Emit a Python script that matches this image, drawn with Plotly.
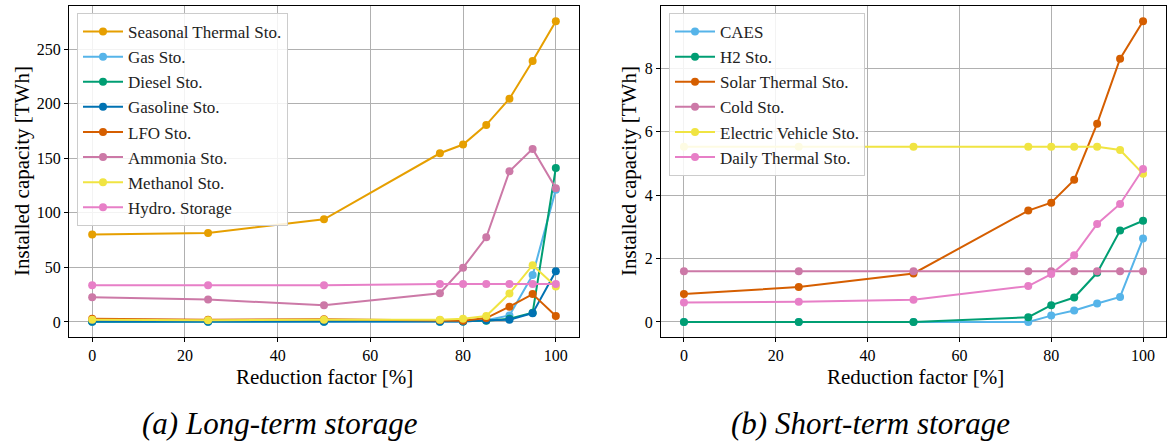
import plotly.graph_objects as go

x = [0, 25, 50, 75, 80, 85, 90, 95, 100]

# Long-term storage [TWh]
long_names = ["Seasonal Thermal Sto.", "Gas Sto.", "Diesel Sto.", "Gasoline Sto.",
              "LFO Sto.", "Ammonia Sto.", "Methanol Sto.", "Hydro. Storage"]
seasonal_thermal = [80, 81.5, 94, 154.5, 162.5, 180.5, 204.5, 239, 275.5]
gas_sto = [0, 0, 0, 0, 0.5, 1.5, 6, 43, 121]
diesel_sto = [0.5, 0.5, 0.5, 0.5, 0.5, 1, 3, 8.5, 141]
gasoline_sto = [0.5, 0.5, 0.5, 0.5, 0.5, 1.5, 2, 8, 46.5]
lfo_sto = [3, 2, 2.5, 1.5, 1, 3.5, 14, 25.5, 5.5]
ammonia_sto = [22.5, 20.5, 15.3, 26.3, 49.7, 77.5, 138, 158.5, 122.5]
methanol_sto = [2, 1.5, 2, 2, 3, 5.5, 26, 52, 32.5]
hydro_storage = [33.5, 33.5, 33.5, 34.8, 34.8, 34.8, 34.8, 34.8, 34.8]
long_series = [seasonal_thermal, gas_sto, diesel_sto, gasoline_sto,
               lfo_sto, ammonia_sto, methanol_sto, hydro_storage]
long_colors = ["#E69F00", "#56B4E9", "#009E73", "#0072B2",
               "#D55E00", "#CC79A7", "#F0E442", "#E77FC7"]

# Short-term storage [TWh]
short_names = ["CAES", "H2 Sto.", "Solar Thermal Sto.", "Cold Sto.",
               "Electric Vehicle Sto.", "Daily Thermal Sto."]
caes = [0, 0, 0, 0, 0.2, 0.36, 0.58, 0.79, 2.63]
h2_sto = [0, 0, 0, 0.15, 0.53, 0.77, 1.55, 2.88, 3.19]
solar_thermal = [0.88, 1.1, 1.53, 3.51, 3.76, 4.48, 6.25, 8.3, 9.48]
cold_sto = [1.6, 1.6, 1.6, 1.6, 1.6, 1.6, 1.6, 1.6, 1.6]
ev_sto = [5.52, 5.52, 5.52, 5.52, 5.52, 5.52, 5.52, 5.42, 4.67]
daily_thermal = [0.61, 0.64, 0.7, 1.13, 1.51, 2.1, 3.09, 3.72, 4.82]
short_series = [caes, h2_sto, solar_thermal, cold_sto, ev_sto, daily_thermal]
short_colors = ["#56B4E9", "#009E73", "#D55E00", "#CC79A7", "#F0E442", "#E77FC7"]

FONT = "'Liberation Serif', 'DejaVu Serif', serif"
W, H = 1167, 441

fig = go.Figure()
for name, ys, c in zip(long_names, long_series, long_colors):
    fig.add_trace(go.Scatter(x=x, y=ys, name=name, mode="lines+markers",
                             line=dict(color=c, width=2), marker=dict(color=c, size=8),
                             xaxis="x", yaxis="y", legend="legend"))
for name, ys, c in zip(short_names, short_series, short_colors):
    fig.add_trace(go.Scatter(x=x, y=ys, name=name, mode="lines+markers",
                             line=dict(color=c, width=2), marker=dict(color=c, size=8),
                             xaxis="x2", yaxis="y2", legend="legend2"))

def px_x(p):
    return p / W

def px_y(p):
    return 1 - p / H

ax_common = dict(showline=True, mirror=True, linecolor="black", linewidth=1,
                 ticks="outside", ticklen=4, tickcolor="black",
                 showgrid=True, gridcolor="#b0b0b0", gridwidth=1, zeroline=False,
                 tickfont=dict(family=FONT, size=16, color="black"))

y_dom = [px_y(337), px_y(6)]
leg_common = dict(xanchor="left", yanchor="top", itemwidth=40,
                  bgcolor="rgba(255,255,255,0.85)", bordercolor="#cccccc", borderwidth=1,
                  font=dict(family=FONT, size=17, color="#222"), tracegroupgap=0)
fig.update_layout(
    width=W, height=H,
    margin=dict(l=0, r=0, t=0, b=0),
    paper_bgcolor="white", plot_bgcolor="white",
    font=dict(family=FONT, size=16, color="black"),
    xaxis=dict(domain=[px_x(69), px_x(579)], range=[-5, 105], anchor="y",
               tickvals=[0, 20, 40, 60, 80, 100], **ax_common),
    yaxis=dict(domain=y_dom, range=[-13.8, 289.4], anchor="x",
               tickvals=[0, 50, 100, 150, 200, 250], **ax_common),
    xaxis2=dict(domain=[px_x(661), px_x(1166)], range=[-5, 105], anchor="y2",
                tickvals=[0, 20, 40, 60, 80, 100], **ax_common),
    yaxis2=dict(domain=y_dom, range=[-0.474, 9.96], anchor="x2",
                tickvals=[0, 2, 4, 6, 8], **ax_common),
    legend=dict(x=px_x(77), y=px_y(13), **leg_common),
    legend2=dict(x=px_x(669), y=px_y(13), **leg_common),
    showlegend=True,
)

ann = [
    dict(text="Installed capacity [TWh]", x=px_x(22), y=px_y(171), textangle=-90),
    dict(text="Reduction factor [%]", x=px_x(324), y=px_y(377)),
    dict(text="Installed capacity [TWh]", x=px_x(629), y=px_y(171), textangle=-90),
    dict(text="Reduction factor [%]", x=px_x(915), y=px_y(377)),
]
for a in ann:
    fig.add_annotation(xref="paper", yref="paper", showarrow=False,
                       xanchor="center", yanchor="middle",
                       font=dict(family=FONT, size=21, color="black"), **a)
for text, cx in [("(a) Long-term storage", 280), ("(b) Short-term storage", 870)]:
    fig.add_annotation(xref="paper", yref="paper", showarrow=False,
                       xanchor="center", yanchor="middle", x=px_x(cx), y=px_y(423),
                       text="<i>" + text + "</i>",
                       font=dict(family=FONT, size=31, color="black"))

fig.write_html("out.html", config={"displayModeBar": False},
               post_script="document.body.style.margin='0';document.body.style.overflow='hidden';")
